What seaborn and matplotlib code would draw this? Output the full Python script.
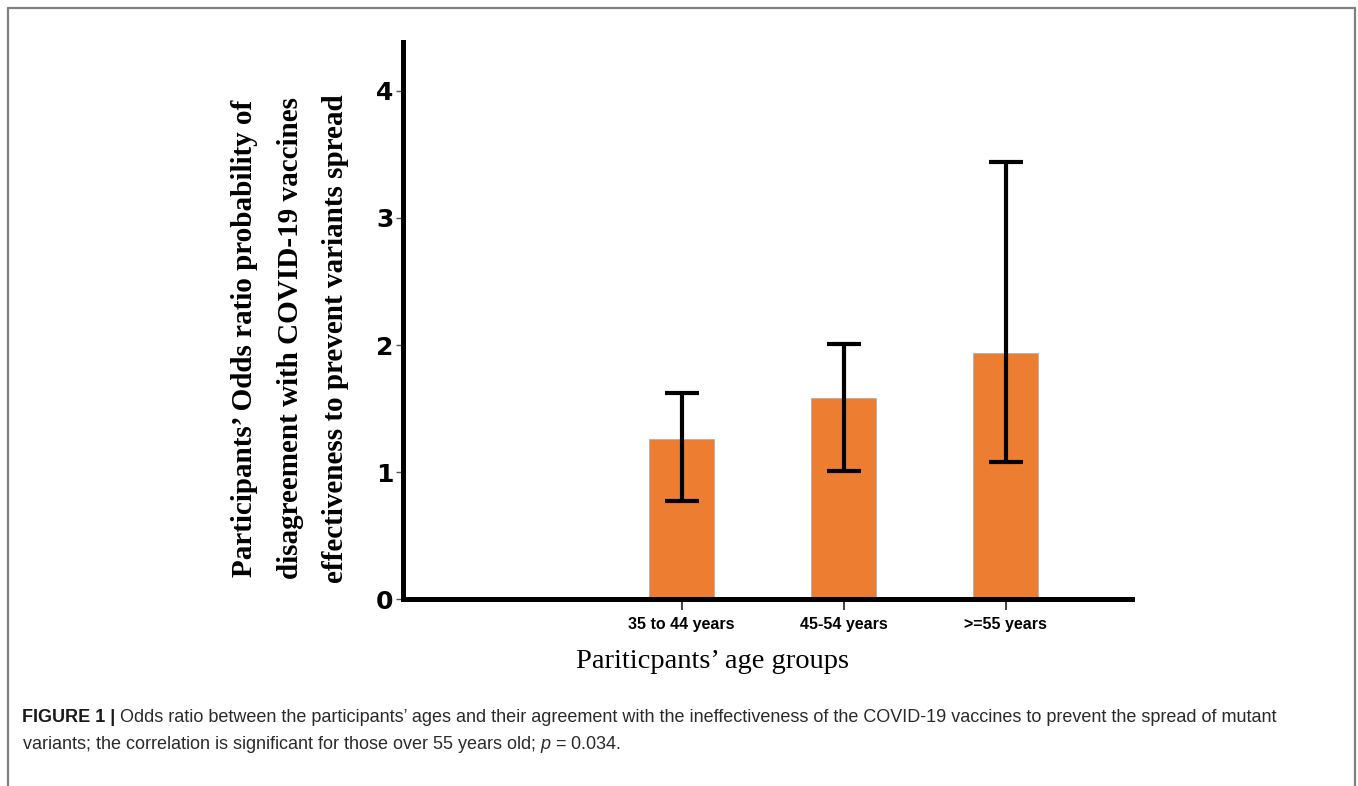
import numpy as np
import pandas as pd
import seaborn as sns
import matplotlib.pyplot as plt
from matplotlib.lines import Line2D

# data
age_groups = ["35 to 44 years", "45-54 years", ">=55 years"]
odds_ratio = [1.26, 1.58, 1.94]
ci_low = [0.77, 1.01, 1.08]
ci_high = [1.62, 2.01, 3.44]
y_ticks = [0, 1, 2, 3, 4]

sns.set_style("white")
plt.rcParams['font.family'] = ['Liberation Sans', 'DejaVu Sans']
plt.rcParams['mathtext.fontset'] = 'custom'
plt.rcParams['mathtext.rm'] = 'Liberation Sans'
plt.rcParams['mathtext.it'] = 'Liberation Sans:italic'

fig = plt.figure(figsize=(13.58, 7.86), dpi=100)
ax = fig.add_axes([0.2968, 0.2379, 0.5368, 0.7087])

df = pd.DataFrame({"group": age_groups, "odds": odds_ratio})
sns.barplot(data=df, x="group", y="odds", color="#ED7D31", saturation=1,
            width=0.40, edgecolor="#b0b0b0", linewidth=0.6, ax=ax)

err = np.array([np.array(odds_ratio) - np.array(ci_low),
                np.array(ci_high) - np.array(odds_ratio)])
ax.errorbar(np.arange(len(age_groups)), odds_ratio, yerr=err, fmt="none",
            ecolor="black", elinewidth=3, capsize=12.5, capthick=3, zorder=5)

ax.set_xlim(-1.72, 2.78)
ax.set_ylim(0, 4.386)
ax.set_yticks(y_ticks)
ax.set_yticklabels([str(t) for t in y_ticks], fontsize=18, fontweight="bold",
                   family=["DejaVu Sans"], color="black")
ax.set_xticks(np.arange(len(age_groups)))
ax.set_xticklabels(age_groups, fontsize=11.5, fontweight="bold", color="black")

for s in ["top", "right"]:
    ax.spines[s].set_visible(False)
ax.spines["left"].set_linewidth(3.6)
ax.spines["bottom"].set_linewidth(3.6)
ax.spines["left"].set_color("black")
ax.spines["bottom"].set_color("black")
ax.tick_params(axis="y", left=True, length=5, width=1, color="#555555", pad=2)
ax.tick_params(axis="x", bottom=True, length=8, width=1.3, color="#333333", pad=5)

ax.set_ylabel("Participants\u2019 Odds ratio probability of\n"
              "disagreement with COVID-19 vaccines\n"
              "effectiveness to prevent variants spread",
              family=["Liberation Serif"], fontweight="bold", fontsize=21,
              linespacing=1.88, va="center", ha="center", color="black")
ax.yaxis.set_label_coords(-0.155, 0.468)
ax.set_xlabel("Pariticpants\u2019 age groups", family=["Liberation Serif"],
              fontsize=20.5, va="center", color="black")
ax.xaxis.set_label_coords(0.425, -0.112)

# frame around the figure panel (open at the bottom)
for xs, ys in [([8/1358, 8/1358], [0, 1-8/786]),
               ([8/1358, 1355/1358], [1-8/786, 1-8/786]),
               ([1355/1358, 1355/1358], [1-8/786, 0])]:
    fig.add_artist(Line2D(xs, ys, color="#808080", lw=1.6, transform=fig.transFigure))

t1 = fig.text(22/1358, 1-722/786, "FIGURE 1 |", fontsize=13, fontweight="bold",
              color="#1a1a1a", va="baseline")
ax.annotate(" Odds ratio between the participants\u2019 ages and their agreement with the "
            "ineffectiveness of the COVID-19 vaccines to prevent the spread of mutant",
            xy=(1, 0), xycoords=t1, fontsize=13, color="#2a2a2a", va="bottom",
            annotation_clip=False)
fig.text(22/1358, 1-749/786,
         "variants; the correlation is significant for those over 55 years old; "
         "$p$ = 0.034.", fontsize=13, color="#2a2a2a", va="baseline")

fig.savefig("out.png", dpi=100)
